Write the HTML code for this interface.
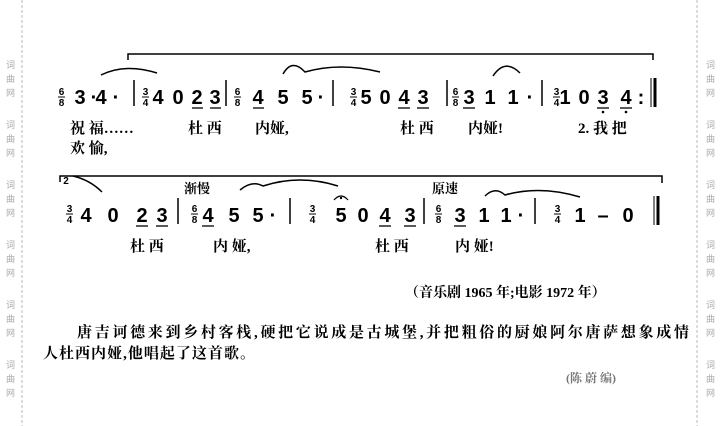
<!DOCTYPE html>
<html><head><meta charset="utf-8"><style>
html,body{margin:0;padding:0;background:#fff;}
svg{display:block;}
.n{font-family:"Liberation Sans",sans-serif;font-weight:bold;font-size:20px;fill:#000;text-anchor:middle;}
.f{font-family:"Liberation Sans",sans-serif;font-weight:bold;font-size:10px;fill:#000;text-anchor:middle;}
.l{font-family:"Liberation Serif","Noto Serif CJK SC",serif;font-weight:bold;font-size:15px;fill:#000;white-space:pre;}
.w{font-family:"Noto Sans CJK SC",sans-serif;font-size:9px;fill:#aaa;}
</style></head><body>
<svg width="722" height="426" viewBox="0 0 722 426" xmlns="http://www.w3.org/2000/svg">
<line x1="22" y1="0" x2="22" y2="426" stroke="#bbb" stroke-dasharray="3,2"/>
<line x1="697" y1="0" x2="697" y2="426" stroke="#bbb" stroke-dasharray="3,2"/>
<g class="w">
<text x="6" y="68">词</text><text x="6" y="82">曲</text><text x="6" y="96">网</text>
<text x="6" y="128">词</text><text x="6" y="142">曲</text><text x="6" y="156">网</text>
<text x="6" y="188">词</text><text x="6" y="202">曲</text><text x="6" y="216">网</text>
<text x="6" y="248">词</text><text x="6" y="262">曲</text><text x="6" y="276">网</text>
<text x="6" y="308">词</text><text x="6" y="322">曲</text><text x="6" y="336">网</text>
<text x="6" y="368">词</text><text x="6" y="382">曲</text><text x="6" y="396">网</text>
<text x="706" y="68">词</text><text x="706" y="82">曲</text><text x="706" y="96">网</text>
<text x="706" y="128">词</text><text x="706" y="142">曲</text><text x="706" y="156">网</text>
<text x="706" y="188">词</text><text x="706" y="202">曲</text><text x="706" y="216">网</text>
<text x="706" y="248">词</text><text x="706" y="262">曲</text><text x="706" y="276">网</text>
<text x="706" y="308">词</text><text x="706" y="322">曲</text><text x="706" y="336">网</text>
<text x="706" y="368">词</text><text x="706" y="382">曲</text><text x="706" y="396">网</text>
</g>
<g stroke="#000" fill="none" stroke-width="1.5">
<!-- Row 1 -->
<path d="M128 60 V54 H653 V60"/>
<path d="M101 75 Q125 63 157 73"/>
<path d="M283 74 Q292 58 305 72 Q340 62 380 72"/>
<path d="M493 76 Q505 58 520 73"/>
<line x1="134" y1="80" x2="134" y2="106"/>
<line x1="226" y1="80" x2="226" y2="106"/>
<line x1="333" y1="80" x2="333" y2="106"/>
<line x1="447" y1="80" x2="447" y2="106"/>
<line x1="542" y1="80" x2="542" y2="106"/>
<line x1="651" y1="78" x2="651" y2="107" stroke-width="1"/>
<line x1="655" y1="78" x2="655" y2="107" stroke-width="3"/>
<g stroke-width="1.3">
<line x1="192" y1="108" x2="203" y2="108"/><line x1="210" y1="108" x2="221" y2="108"/>
<line x1="253" y1="108" x2="264" y2="108"/>
<line x1="398" y1="108" x2="410" y2="108"/><line x1="417" y1="108" x2="429" y2="108"/>
<line x1="463" y1="108" x2="475" y2="108"/>
<line x1="597" y1="108" x2="609" y2="108"/><line x1="620" y1="108" x2="632" y2="108"/>
</g>
<!-- Row 2 -->
<path d="M60 182 V176 H662 V183"/>
<path d="M73 176 Q90 180 102 192"/>
<path d="M240 190 Q252 180 263 186 Q300 174 338 186"/>
<path d="M334 200 Q341 192 348 200" stroke-width="1.3"/>
<path d="M485 196 Q495 186 505 195 Q540 185 580 197"/>
<line x1="178" y1="198" x2="178" y2="224"/>
<line x1="290" y1="198" x2="290" y2="224"/>
<line x1="424" y1="198" x2="424" y2="224"/>
<line x1="535" y1="198" x2="535" y2="224"/>
<line x1="654" y1="196" x2="654" y2="225" stroke-width="1"/>
<line x1="658" y1="196" x2="658" y2="225" stroke-width="3"/>
<g stroke-width="1.3">
<line x1="136" y1="226" x2="148" y2="226"/><line x1="156" y1="226" x2="168" y2="226"/>
<line x1="202" y1="226" x2="214" y2="226"/>
<line x1="379" y1="226" x2="391" y2="226"/><line x1="404" y1="226" x2="416" y2="226"/>
<line x1="454" y1="226" x2="466" y2="226"/>
</g>
<!-- fraction lines -->
<g stroke-width="1">
<line x1="58" y1="97" x2="65" y2="97"/><line x1="142" y1="97" x2="149" y2="97"/>
<line x1="234" y1="97" x2="241" y2="97"/><line x1="350" y1="97" x2="357" y2="97"/>
<line x1="452" y1="97" x2="459" y2="97"/><line x1="553" y1="97" x2="560" y2="97"/>
<line x1="66" y1="214" x2="73" y2="214"/><line x1="191" y1="214" x2="198" y2="214"/>
<line x1="309" y1="214" x2="316" y2="214"/><line x1="435" y1="214" x2="442" y2="214"/>
<line x1="554" y1="214" x2="561" y2="214"/>
</g>
</g>
<circle cx="341" cy="198" r="1.2"/>
<circle cx="603" cy="112" r="1.3"/><circle cx="626" cy="112" r="1.3"/>
<g class="f">
<text x="61.5" y="95">6</text><text x="61.5" y="106">8</text>
<text x="145.5" y="95">3</text><text x="145.5" y="106">4</text>
<text x="237.5" y="95">6</text><text x="237.5" y="106">8</text>
<text x="353.5" y="95">3</text><text x="353.5" y="106">4</text>
<text x="455.5" y="95">6</text><text x="455.5" y="106">8</text>
<text x="556.5" y="95">3</text><text x="556.5" y="106">4</text>
<text x="69.5" y="212">3</text><text x="69.5" y="223">4</text>
<text x="194.5" y="212">6</text><text x="194.5" y="223">8</text>
<text x="312.5" y="212">3</text><text x="312.5" y="223">4</text>
<text x="438.5" y="212">6</text><text x="438.5" y="223">8</text>
<text x="557.5" y="212">3</text><text x="557.5" y="223">4</text>
<text x="66" y="184">2</text>
</g>
<g class="n">
<text x="80" y="104">3</text><text x="94" y="104">·</text><text x="101" y="104">4</text><text x="116" y="104">·</text>
<text x="158" y="104">4</text><text x="178" y="104">0</text><text x="197" y="104">2</text><text x="215" y="104">3</text>
<text x="258" y="104">4</text><text x="283" y="104">5</text><text x="307" y="104">5</text><text x="321" y="104">·</text>
<text x="366" y="104">5</text><text x="385" y="104">0</text><text x="404" y="104">4</text><text x="423" y="104">3</text>
<text x="469" y="104">3</text><text x="490" y="104">1</text><text x="513" y="104">1</text><text x="530" y="104">·</text>
<text x="565" y="104">1</text><text x="584" y="104">0</text><text x="603" y="104">3</text><text x="626" y="104">4</text><text x="641" y="104">:</text>
<text x="86" y="222">4</text><text x="113" y="222">0</text><text x="142" y="222">2</text><text x="162" y="222">3</text>
<text x="208" y="222">4</text><text x="234" y="222">5</text><text x="258" y="222">5</text><text x="273" y="222">·</text>
<text x="341" y="222">5</text><text x="363" y="222">0</text><text x="385" y="222">4</text><text x="410" y="222">3</text>
<text x="460" y="222">3</text><text x="484" y="222">1</text><text x="506" y="222">1</text><text x="521" y="222">·</text>
<text x="580" y="222">1</text><text x="603" y="222">–</text><text x="628" y="222">0</text>
</g>
<g class="l">
<text x="70" y="133">祝 福……</text>
<text x="188" y="133">杜 西</text>
<text x="255" y="133">内娅,</text>
<text x="400" y="133">杜 西</text>
<text x="468" y="133">内娅!</text>
<text x="578" y="133">2. 我 把</text>
<text x="70" y="153">欢 愉,</text>
<text x="130" y="251">杜 西</text>
<text x="213" y="251">内 娅,</text>
<text x="375" y="251">杜 西</text>
<text x="455" y="251">内 娅!</text>
<text x="184" y="193" style="font-size:13px">渐慢</text>
<text x="432" y="193" style="font-size:13px">原速</text>
<text x="405" y="297" style="font-size:14px">（音乐剧 1965 年;电影 1972 年）</text>
<text x="77" y="337" textLength="612" lengthAdjust="spacing">唐吉诃德来到乡村客栈,硬把它说成是古城堡,并把粗俗的厨娘阿尔唐萨想象成情</text>
<text x="43" y="358" textLength="212" lengthAdjust="spacing">人杜西内娅,他唱起了这首歌。</text>
<text x="566" y="382" style="font-size:12px;fill:#777">(陈 蔚 编)</text>
</g>
</svg>
</body></html>
